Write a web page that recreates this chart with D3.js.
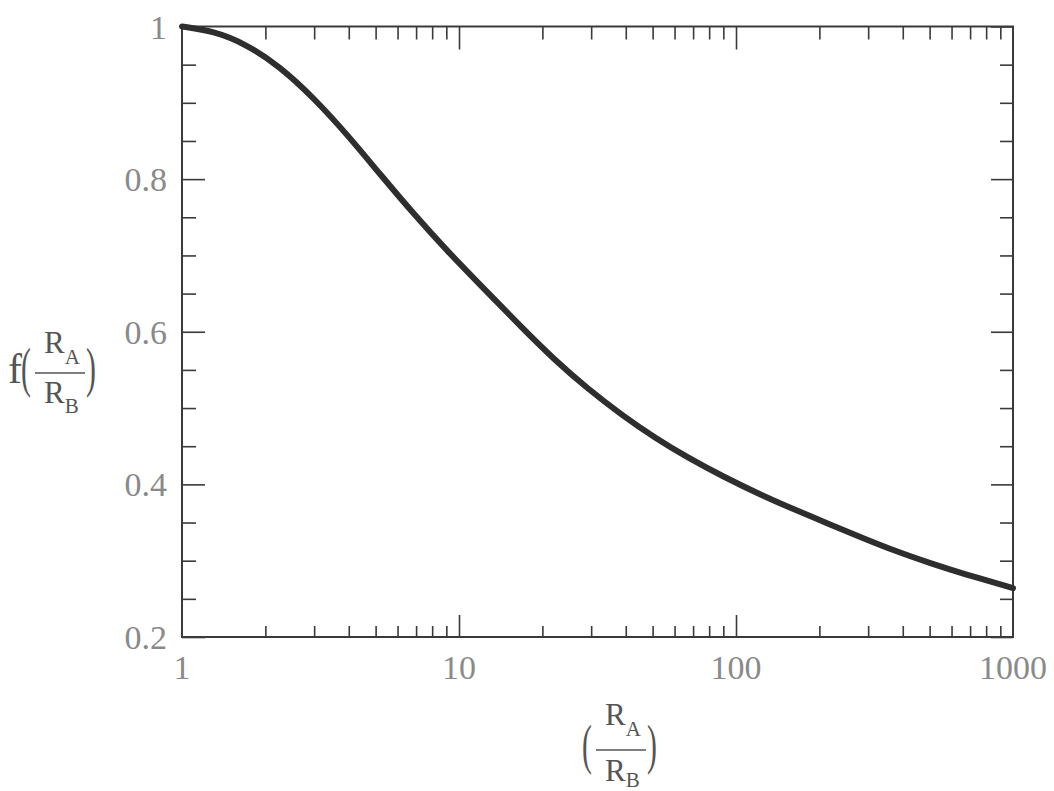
<!DOCTYPE html>
<html>
<head>
<meta charset="utf-8">
<script src="https://cdn.jsdelivr.net/npm/d3@7"></script>
<style>
  body { margin: 0; background: #fff; }
  svg { display: block; }
  .tick-label { font-family: 'Liberation Serif', 'DejaVu Serif', serif; fill: #8a8a8a; font-size: 34px; }
  .axis-name { font-family: 'Liberation Serif', 'DejaVu Serif', serif; fill: #555; }
</style>
</head>
<body>
<div id="chart"></div>
<script>
// data
const ratio = [1, 1.3, 1.7, 2.25, 3, 4, 5.2, 6.8, 9, 12.8, 16.8, 22, 29, 39, 51, 67, 89, 125, 165, 220, 290, 380, 500, 660, 1000];
const fValue = [1.0, 0.994, 0.977, 0.948, 0.906, 0.856, 0.806, 0.756, 0.707, 0.650, 0.606, 0.564, 0.526, 0.490, 0.461, 0.435, 0.411, 0.385, 0.366, 0.347, 0.329, 0.312, 0.297, 0.283, 0.264];

const xMajor = [1, 10, 100, 1000];
const xTickLabels = ['1', '10', '100', '1000'];
const yMajor = [0.2, 0.4, 0.6, 0.8, 1];
const yTickLabels = ['0.2', '0.4', '0.6', '0.8', '1'];
const yMinor = [0.25, 0.3, 0.35, 0.45, 0.5, 0.55, 0.65, 0.7, 0.75, 0.85, 0.9, 0.95];

const width = 1054;
const height = 791;
const plot = { l: 182, r: 1013, t: 26.5, b: 637 };

const svg = d3
  .select('#chart')
  .append('svg')
  .attr('width', width)
  .attr('height', height);

const x = d3.scaleLog().domain([1, 1000]).range([plot.l, plot.r]);
const y = d3.scaleLinear().domain([0.2, 1]).range([plot.b, plot.t]);

// minor log ticks 2..9 in every decade
const xMinor = [];
[1, 10, 100].forEach((d) => {
  for (let k = 2; k <= 9; k++) xMinor.push(d * k);
});

const frameColor = '#3a3a3a';

function styleAxis(g) {
  g.select('.domain').remove();
  g.selectAll('.tick line').attr('stroke', frameColor).attr('stroke-width', 1.6);
  g.selectAll('.tick text').remove();
}

// bottom
svg.append('g').attr('transform', `translate(0,${plot.b})`)
  .call(d3.axisBottom(x).tickValues(xMinor).tickSize(-11)).call(styleAxis);
svg.append('g').attr('transform', `translate(0,${plot.b})`)
  .call(d3.axisBottom(x).tickValues([10, 100]).tickSize(-22)).call(styleAxis);
// top
svg.append('g').attr('transform', `translate(0,${plot.t})`)
  .call(d3.axisTop(x).tickValues(xMinor).tickSize(-13)).call(styleAxis);
svg.append('g').attr('transform', `translate(0,${plot.t})`)
  .call(d3.axisTop(x).tickValues([10, 100]).tickSize(-23)).call(styleAxis);
// left
svg.append('g').attr('transform', `translate(${plot.l},0)`)
  .call(d3.axisLeft(y).tickValues(yMinor).tickSize(-14)).call(styleAxis);
svg.append('g').attr('transform', `translate(${plot.l},0)`)
  .call(d3.axisLeft(y).tickValues(yMajor).tickSize(-23)).call(styleAxis);
// right
svg.append('g').attr('transform', `translate(${plot.r},0)`)
  .call(d3.axisRight(y).tickValues(yMinor).tickSize(-13)).call(styleAxis);
svg.append('g').attr('transform', `translate(${plot.r},0)`)
  .call(d3.axisRight(y).tickValues(yMajor).tickSize(-22)).call(styleAxis);

// frame
svg.append('rect')
  .attr('x', plot.l)
  .attr('y', plot.t)
  .attr('width', plot.r - plot.l)
  .attr('height', plot.b - plot.t)
  .attr('fill', 'none')
  .attr('stroke', frameColor)
  .attr('stroke-width', 2);

// curve
const points = ratio.map((r, i) => [r, fValue[i]]);
svg.append('path')
  .datum(points)
  .attr('fill', 'none')
  .attr('stroke', '#2e2e2e')
  .attr('stroke-width', 6)
  .attr('stroke-linecap', 'round')
  .attr('d', d3.line().x((d) => x(d[0])).y((d) => y(d[1])).curve(d3.curveBasis));

// tick labels
svg.selectAll('.xlab')
  .data(xMajor)
  .join('text')
  .attr('class', 'tick-label')
  .attr('x', (d) => x(d))
  .attr('y', 679)
  .attr('text-anchor', 'middle')
  .text((d, i) => xTickLabels[i]);

svg.selectAll('.ylab')
  .data(yMajor)
  .join('text')
  .attr('class', 'tick-label')
  .attr('x', 167)
  .attr('y', (d) => y(d) + 12)
  .attr('text-anchor', 'end')
  .text((d, i) => yTickLabels[i]);

// axis names: (R_A / R_B) fractions
function paren(g, px, lineY, ch) {
  g.append('text').attr('class', 'axis-name')
    .attr('x', px).attr('y', lineY + 13)
    .attr('font-size', 54)
    .attr('text-anchor', 'middle')
    .attr('transform', `translate(${px},${lineY}) scale(0.55,1) translate(${-px},${-lineY})`)
    .text(ch);
}

function fraction(g, cx, lineY, numOff, denOff, subDy, prefix) {
  if (prefix) {
    g.append('text').attr('class', 'axis-name')
      .attr('x', cx - 38).attr('y', lineY + 10)
      .attr('font-size', 42).attr('text-anchor', 'end').text(prefix);
  }
  paren(g, cx - 34, lineY, '(');
  paren(g, cx + 31, lineY, ')');
  const top = g.append('text').attr('class', 'axis-name')
    .attr('x', cx - 16).attr('y', lineY - numOff).attr('font-size', 31);
  top.append('tspan').text('R');
  top.append('tspan').attr('font-size', 21).attr('dy', 11).text('A');
  g.append('line')
    .attr('x1', cx - 25).attr('x2', cx + 25)
    .attr('y1', lineY).attr('y2', lineY)
    .attr('stroke', '#555').attr('stroke-width', 1.6);
  const bot = g.append('text').attr('class', 'axis-name')
    .attr('x', cx - 16).attr('y', lineY + denOff).attr('font-size', 31);
  bot.append('tspan').text('R');
  bot.append('tspan').attr('font-size', 21).attr('dy', subDy).text('B');
}

fraction(svg.append('g'), 60, 373, 20, 30, 10, 'f');
fraction(svg.append('g'), 621, 750, 25, 31, 6, null);
</script>
</body>
</html>
